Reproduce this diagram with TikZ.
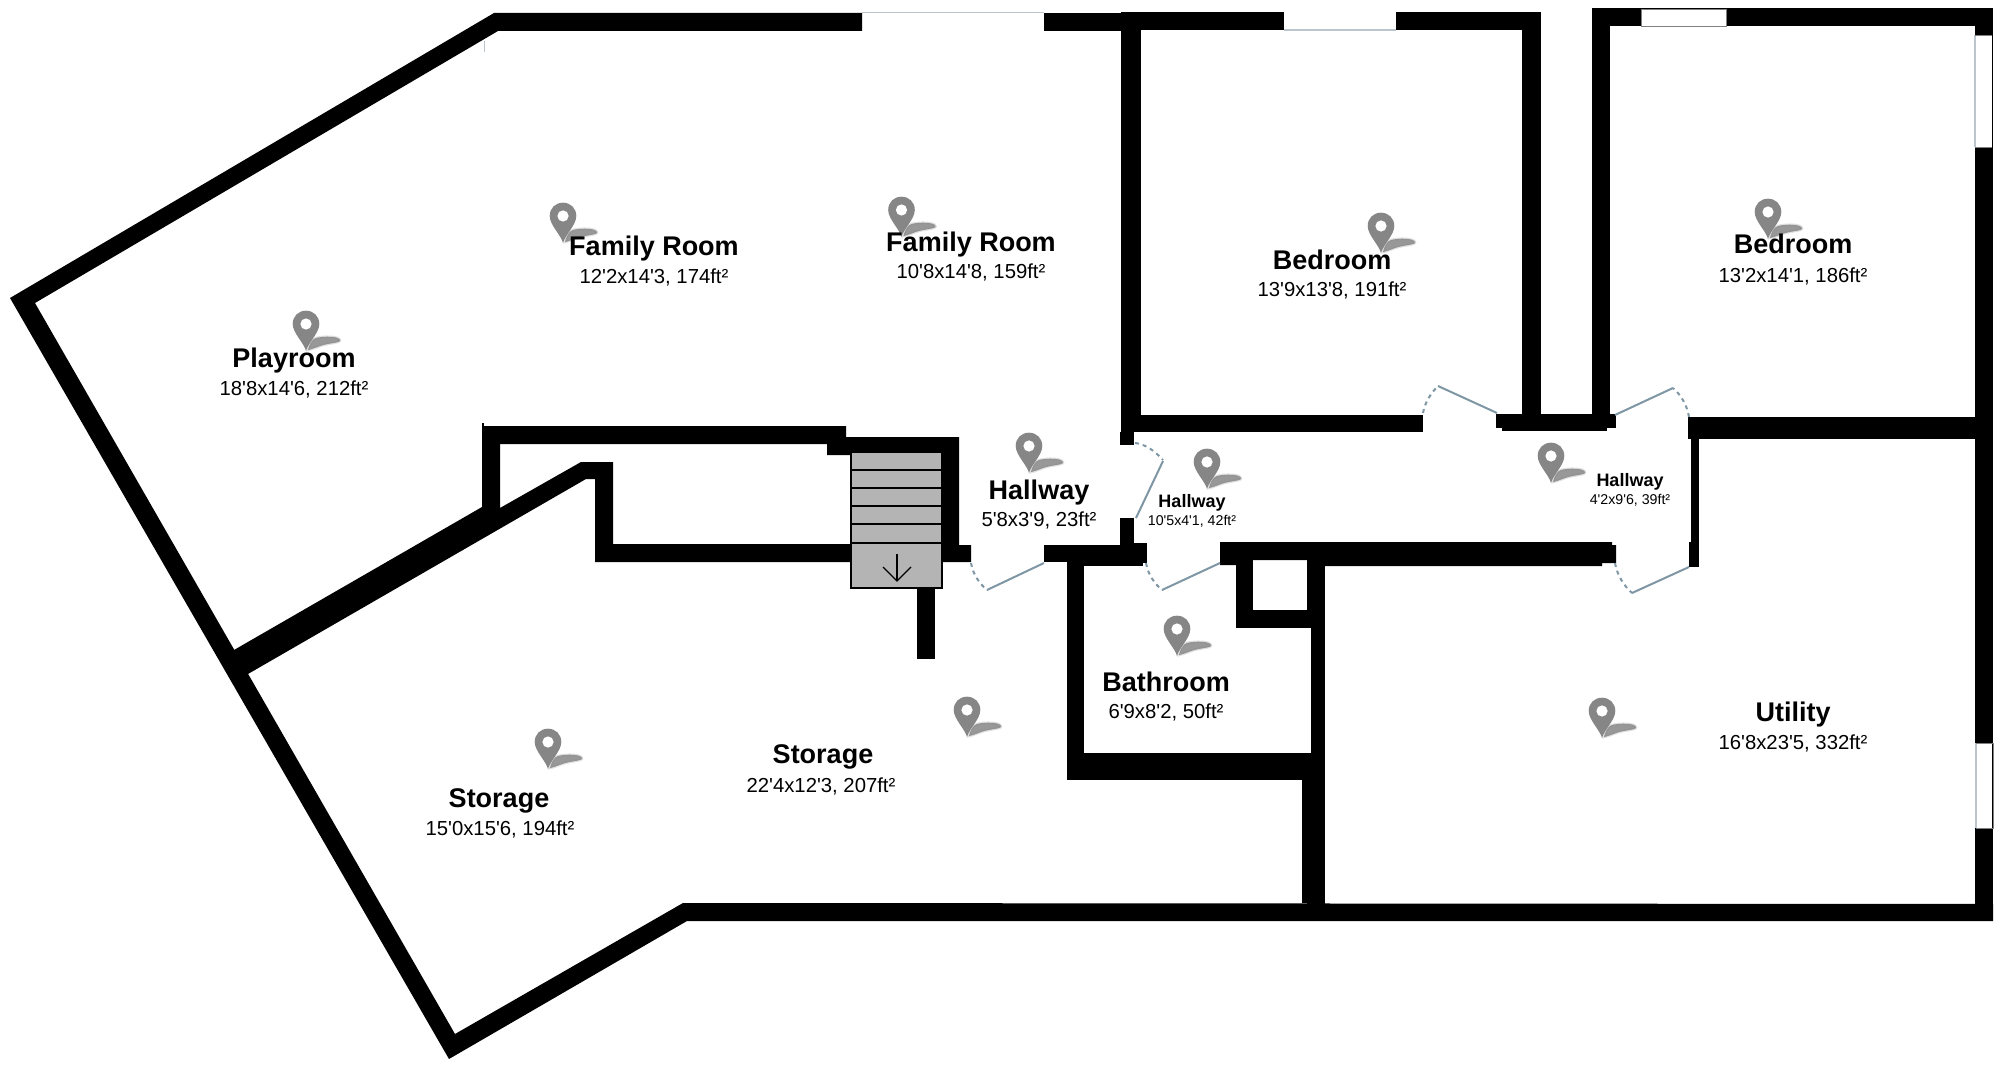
\documentclass[tikz,border=0pt]{standalone}
\usepackage{fontspec}
\newfontfamily\planfont{Liberation Sans}
\definecolor{doorcol}{HTML}{7F97A5}
\definecolor{pincol}{HTML}{868686}
\definecolor{stepcol}{HTML}{B4B4B4}
\definecolor{winline}{HTML}{BCC5CC}
\tikzset{
  wall/.style={fill=black,draw=none},
  windowbox/.style={fill=white,draw=none},
  doorleaf/.style={draw=doorcol,line width=2pt},
  doorarc/.style={draw=doorcol,line width=2pt,dash pattern=on 4pt off 4pt},
  stepline/.style={draw=black,line width=1.3pt},
  title/.style={font=\planfont\bfseries\fontsize{27}{30}\selectfont,anchor=base,inner sep=0pt},
  dims/.style={font=\planfont\fontsize{20.3}{24}\selectfont,anchor=base,inner sep=0pt},
  smalltitle/.style={font=\planfont\bfseries\fontsize{18}{22}\selectfont,anchor=base,inner sep=0pt},
  smalldims/.style={font=\planfont\fontsize{14.2}{18}\selectfont,anchor=base,inner sep=0pt},
  pinmark/.pic={
    \path[fill=pincol,draw=pincol,line width=2.5pt,opacity=.25] (2,-1) .. controls (3,-6) and (6,-12) .. (10,-13) .. controls (18,-15) and (34,-15) .. (34,-10.5) .. controls (34,-8) and (22,-8) .. (14,-5) .. controls (10,-3.5) and (5,-1.5) .. (2,-1) -- cycle;
    \path[fill=pincol,opacity=.8] (2,-1) .. controls (3,-6) and (6,-12) .. (10,-13) .. controls (18,-15) and (34,-15) .. (34,-10.5) .. controls (34,-8) and (22,-8) .. (14,-5) .. controls (10,-3.5) and (5,-1.5) .. (2,-1) -- cycle;
    \fill[pincol] (0,0) .. controls (-2,-8) and (-13.3,-18) .. (-13.3,-27) .. controls (-13.3,-35) and (-7.4,-40.3) .. (0,-40.3) .. controls (7.4,-40.3) and (13.3,-35) .. (13.3,-27) .. controls (13.3,-18) and (2,-8) .. (0,0) -- cycle;
    \fill[white] (0,-27) circle[radius=5.6pt];
  }
}
\begin{document}
\begin{tikzpicture}[x=1pt,y=-1pt]
\useasboundingbox (0,0) rectangle (2003,1067);
\fill[white] (0,0) rectangle (2003,1067);
% outer west and south walls
\path[wall] (862,13) -- (494,13) -- (10,298) -- (449,1059) -- (687,921) -- (1993,921) -- (1993,904) -- (683,903) -- (455,1034) -- (35,303) -- (498,31) -- (862,31) -- cycle;
% top wall east of the glazed gap
\path[wall] (1044,13) rectangle (1141,31);
\draw[winline,line width=1pt] (862,13) -- (1044,13);
\draw[winline,line width=1pt] (484,41) -- (484,52);
% bedroom walls
\path[wall] (1121,12) rectangle (1541,30);
\path[wall] (1121,12) rectangle (1141,415);
\path[wall] (1522,12) rectangle (1541,414);
\path[wall] (1592,8) rectangle (1993,26);
\path[wall] (1592,8) rectangle (1610,414);
\path[wall] (1975,8) rectangle (1993,921);
% corridor north side
\path[wall] (1121,415) rectangle (1423,432);
\path[wall] (1120,432) rectangle (1134,445);
\path[wall] (1496,414) rectangle (1616,428);
\path[wall] (1502,428) rectangle (1607,431);
\path[wall] (1688,417) rectangle (1993,439);
\path[wall] (1691,439) rectangle (1699,542);
\path[wall] (1689,542) rectangle (1699,567);
% corridor south side
\path[wall] (1220,542) -- (1612,542) -- (1612,545) -- (1616,545) -- (1616,563) -- (1602,563) -- (1602,566) -- (1325,566) -- (1325,560) -- (1236,560) -- (1236,565) -- (1220,565) -- cycle;
% hall, bathroom, closet
\path[wall] (1120,518) rectangle (1134,545);
\path[wall] (1044,545) rectangle (1134,562);
\path[wall] (1084,545) rectangle (1143,566);
\path[wall] (1120,543) rectangle (1147,563);
\path[wall] (1067,545) rectangle (1084,780);
\path[wall] (1067,753) rectangle (1325,780);
\path[wall] (1236,560) rectangle (1253,628);
\path[wall] (1236,610) rectangle (1311,628);
\path[wall] (1307,542) rectangle (1325,628);
\path[wall] (1311,628) rectangle (1325,753);
\path[wall] (1302,780) rectangle (1325,903);
\path[wall] (1307,780) rectangle (1325,921);
% playroom partition and stair surround
\path[wall] (482,426) -- (846,426) -- (846,437) -- (959,437) -- (959,545) -- (971,545) -- (971,562) -- (851,562) -- (851,455) -- (827,455) -- (827,444) -- (500,444) -- (500,508) -- (581,462) -- (613,462) -- (613,544) -- (851,544) -- (851,562) -- (595,562) -- (595,479) -- (586,479) -- (248,674) -- (225,670) -- (234,650) -- (482,507) -- cycle;
\path[wall] (482,423) rectangle (483.6,426);
\path[wall] (917,588) rectangle (935,659);
% stairs
\path[fill=stepcol,draw=black,line width=1.3pt] (851,452) rectangle (942,588);
\draw[stepline] (851,470) -- (942,470);
\draw[stepline] (851,488) -- (942,488);
\draw[stepline] (851,506) -- (942,506);
\draw[stepline] (851,524) -- (942,524);
\draw[stepline] (851,543) -- (942,543);
\draw[stepline] (897,554) -- (897,581);
\draw[stepline] (883,567) -- (897,581) -- (911,567);
% windows
\path[windowbox] (1284,12) rectangle (1396,30);
\draw[winline,line width=1.2pt] (1284,30) -- (1396,30);
\path[windowbox] (1641,9) rectangle (1726,26);
\draw[gray,line width=.8pt] (1641,26) -- (1641,9) -- (1726,9) -- (1726,26) -- cycle;
\path[windowbox] (1975,35) rectangle (1992,147);
\draw[winline,line width=1.2pt] (1975,35) -- (1975,147);
\draw[gray,line width=.8pt] (1975,35) -- (1992,35);
\draw[gray,line width=.8pt] (1975,147) -- (1992,147);
\path[windowbox] (1976,743) rectangle (1992,828);
\draw[winline,line width=1.2pt] (1976,743) -- (1976,828);
\draw[gray,line width=.8pt] (1976,743) -- (1993,743) -- (1993,828) -- (1976,828);
% doors
\draw[doorarc] (971,563) .. controls (973,575) and (980,584) .. (987,590);
\draw[doorleaf] (987,590) -- (1044,563);
\draw[doorarc] (1135,443) .. controls (1145,444) and (1155,451) .. (1163,460);
\draw[doorleaf] (1163,461) -- (1136,518);
\draw[doorarc] (1146,563) .. controls (1148,575) and (1155,584) .. (1162,590);
\draw[doorleaf] (1162,590) -- (1220,563);
\draw[doorarc] (1423,413) .. controls (1425,402) and (1431,393) .. (1438,386);
\draw[doorleaf] (1438,386) -- (1497,413);
\draw[doorarc] (1689,417) .. controls (1687,405) and (1681,395) .. (1673,388);
\draw[doorleaf] (1673,388) -- (1615,415);
\draw[doorarc] (1615,563) .. controls (1617,575) and (1624,586) .. (1632,593);
\draw[doorleaf] (1632,593) -- (1689,567);
% pins
\pic at (563,243) {pinmark};
\pic at (901.5,237) {pinmark};
\pic at (1381,253) {pinmark};
\pic at (1768,239) {pinmark};
\pic at (306,351) {pinmark};
\pic at (1029,473) {pinmark};
\pic at (1207,489) {pinmark};
\pic at (1551,483) {pinmark};
\pic at (1177,656) {pinmark};
\pic at (1602,738) {pinmark};
\pic at (548,769) {pinmark};
\pic at (967,737) {pinmark};
% labels
\node[title] (fr1) at (654,256) {Family Room};
\node[dims] (fr1d) at (654,284) {12'2x14'3, 174ft²};
\node[title] (fr2) at (971,252) {Family Room};
\node[dims] (fr2d) at (971,279) {10'8x14'8, 159ft²};
\node[title] (bd1) at (1332,270) {Bedroom};
\node[dims] (bd1d) at (1332,297) {13'9x13'8, 191ft²};
\node[title] (bd2) at (1793,254) {Bedroom};
\node[dims] (bd2d) at (1793,283) {13'2x14'1, 186ft²};
\node[title] (pl) at (294,367) {Playroom};
\node[dims] (pld) at (294,395) {18'8x14'6, 212ft²};
\node[title] (hw1) at (1039,499) {Hallway};
\node[dims] (hw1d) at (1039,526) {5'8x3'9, 23ft²};
\node[smalltitle] (hw2) at (1192,507) {Hallway};
\node[smalldims] (hw2d) at (1192,525) {10'5x4'1, 42ft²};
\node[smalltitle] (hw3) at (1630,486) {Hallway};
\node[smalldims] (hw3d) at (1630,504) {4'2x9'6, 39ft²};
\node[title] (ba) at (1166,691) {Bathroom};
\node[dims] (bad) at (1166,718) {6'9x8'2, 50ft²};
\node[title] (ut) at (1793,721) {Utility};
\node[dims] (utd) at (1793,749) {16'8x23'5, 332ft²};
\node[title] (st1) at (499,807) {Storage};
\node[dims] (st1d) at (500,835) {15'0x15'6, 194ft²};
\node[title] (st2) at (823,763) {Storage};
\node[dims] (st2d) at (821,792) {22'4x12'3, 207ft²};
\end{tikzpicture}
\end{document}
